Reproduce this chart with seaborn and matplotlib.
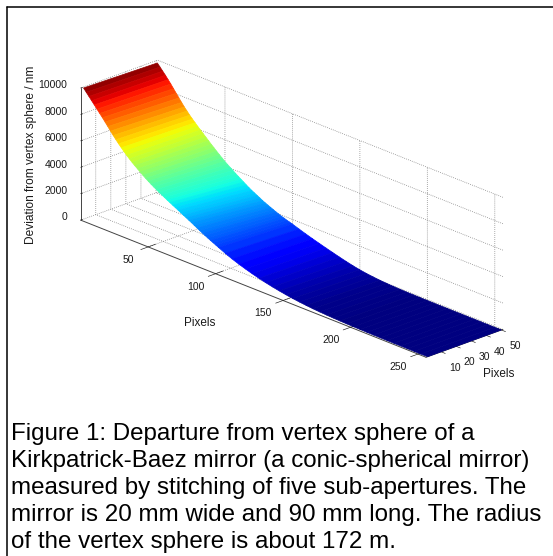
import matplotlib
matplotlib.use("Agg")
import matplotlib.pyplot as plt
from matplotlib.lines import Line2D
from matplotlib.transforms import ScaledTranslation
import numpy as np
import seaborn as sns

# Pixel positions along the mirror (x) and across it (y)
x_pixels = list(range(1, 102, 2)) + list(range(106, 257, 5))
y_pixels = [1, 50]

# Deviation (nm) along the front edge and along the back edge
z_front = [10000, 9760, 9520, 9280, 9040, 8800, 8560, 8320, 8070, 7810, 7550, 7300, 7060,
           6830, 6610, 6400, 6200, 6010, 5830, 5660, 5500, 5340, 5180, 5030, 4890, 4750,
           4620, 4495, 4375, 4260, 4145, 4035, 3925, 3815, 3705, 3600, 3490, 3380, 3270,
           3160, 3050, 2935, 2820, 2705, 2595, 2490, 2385, 2285, 2185, 2090, 1990,
           1750, 1530, 1340, 1170, 1010, 870, 740, 625, 525, 435, 355, 290, 235, 185, 150,
           120, 95, 75, 58, 45, 35, 27, 20, 15, 11, 8, 6, 4, 3, 2, 1]
z_back = [9870, 9640, 9410, 9180, 8930, 8680, 8410, 8140, 7870, 7610, 7350, 7120, 6890,
          6680, 6480, 6280, 6090, 5900, 5710, 5520, 5330, 5150, 4970, 4790, 4620, 4450,
          4300, 4150, 4010, 3860, 3720, 3580, 3450, 3310, 3180, 3060, 2950, 2840, 2730,
          2620, 2520, 2430, 2340, 2250, 2160, 2080, 2000, 1930, 1860, 1800, 1740,
          1560, 1390, 1230, 1080, 930, 790, 650, 520, 400, 300, 220, 160, 110, 75, 50,
          30, 20, 12, 8, 5, 3, 2, 2, 2, 1, 1, 1, 1, 1, 1, 1]

x_ticks = [50, 100, 150, 200, 250]
y_ticks = [10, 20, 30, 40, 50]
z_ticks = [0, 2000, 4000, 6000, 8000, 10000]

z_label = "Deviation from vertex sphere / nm"
axis_label = "Pixels"
caption = ("Figure 1: Departure from vertex sphere of a\n"
           "Kirkpatrick-Baez mirror (a conic-spherical mirror)\n"
           "measured by stitching of five sub-apertures. The\n"
           "mirror is 20 mm wide and 90 mm long. The radius\n"
           "of the vertex sphere is about 172 m.")

sns.set_theme(style="white")
plt.rcParams["font.family"] = ["Liberation Sans", "DejaVu Sans"]
cmap = matplotlib.colormaps["jet"]

fig = plt.figure(figsize=(5.53, 5.56), dpi=100, facecolor="white")
ax = fig.add_axes([0.0262, 0.1259, 0.9765, 0.9712], projection="3d", proj_type="ortho",
                  computed_zorder=False)
ax.patch.set_alpha(0)
ax.view_init(elev=22.3, azim=-43.7)
ax.set_box_aspect((500.6, 106.4, 143), zoom=0.954)

X, Y = np.meshgrid(x_pixels, y_pixels)
Z = np.array([z_front, z_back], dtype=float)
surf = ax.plot_surface(X, Y, Z, cmap=cmap, vmin=0, vmax=10000, rstride=1, cstride=1,
                       linewidth=0.5, antialiased=True, shade=False, zorder=5)
surf.set_edgecolor("face")

ax.set_xlim(0, 256)
ax.set_ylim(0, 51)
ax.set_zlim(0, 10000)
ax.set_xticks(x_ticks)
ax.set_yticks(y_ticks)
ax.set_zticks(z_ticks)
ax.tick_params(labelsize=7.5, colors="#1a1a1a")
ax.tick_params(axis="x", pad=40)
ax.tick_params(axis="y", pad=-3)
ax.tick_params(axis="z", pad=-3)
ax.zaxis.set_ticks_position("lower")
for t in ax.zaxis.get_major_ticks():
    t.label1.set_ha("right")
    t.label1.set_va("center")


def nudge(label, dx, dy):
    """Shift a tick label by a few pixels; Axis3D resets set_transform, so override the getter."""
    shift = ScaledTranslation(dx / 100, dy / 100, fig.dpi_scale_trans)
    label.get_transform = lambda: ax.transData + shift


for axis, (dx, dy) in ((ax.xaxis, (-1.5, 30)), (ax.yaxis, (5, -4.5)), (ax.zaxis, (-3, 0))):
    for t in axis.get_major_ticks():
        nudge(t.label1, dx, dy)

tick_factors = {ax.xaxis: (1.2, 1.2), ax.yaxis: (0.15, 0.15), ax.zaxis: (0.0, 0.3)}
for axis, (inward, outward) in tick_factors.items():
    axis.set_pane_color((1, 1, 1, 0))
    axis.pane.set_edgecolor("none")
    axis._axinfo["grid"].update(color="#777777", linewidth=0.55, linestyle=":")
    axis._axinfo["tick"].update(inward_factor=inward, outward_factor=outward,
                                linewidth={True: 0.45, False: 0.45})
    axis.line.set_color("#444444")
    axis.line.set_linewidth(0.7)

fig.text(31 / 553, 1 - 155 / 556, z_label, rotation=90, ha="center", va="center",
         fontsize=8.6, color="#1a1a1a")
fig.text(200 / 553, 1 - 323 / 556, axis_label, ha="center", va="center", fontsize=8.5, color="#1a1a1a")
fig.text(499 / 553, 1 - 374 / 556, axis_label, ha="center", va="center", fontsize=8.5, color="#1a1a1a")

fig.text(11 / 553, 1 - 548 / 556, caption, ha="left", va="baseline", fontsize=17.35,
         color="black", linespacing=1.29)

fig.add_artist(Line2D([6.5 / 553, 1], [1 - 7 / 556, 1 - 7 / 556], color="black", lw=1.1))
fig.add_artist(Line2D([6.5 / 553, 6.5 / 553], [0, 1 - 7 / 556], color="black", lw=1.1))

fig.savefig("out.png", dpi=100)
